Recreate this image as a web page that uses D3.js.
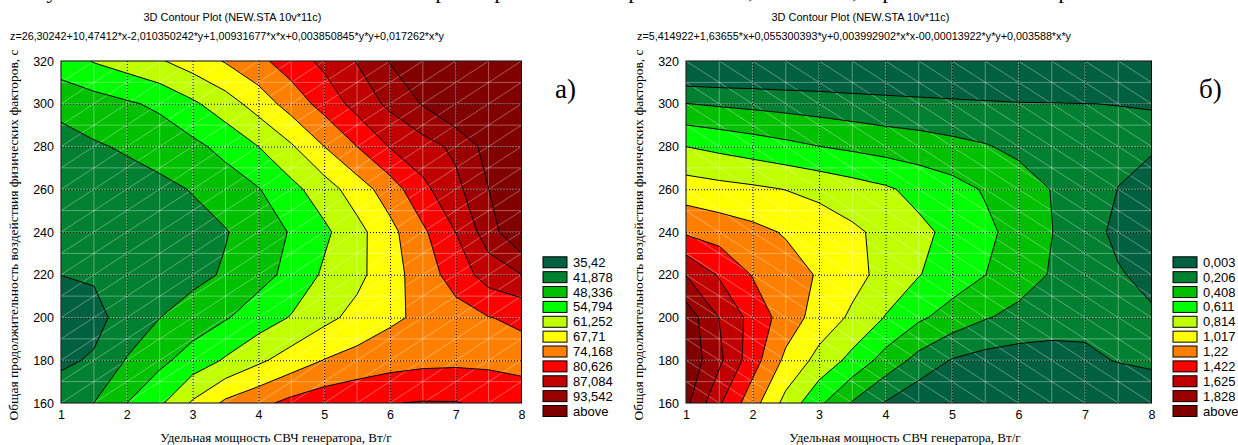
<!DOCTYPE html>
<html><head><meta charset="utf-8">
<script src="https://cdn.jsdelivr.net/npm/d3@7"></script>
<style>body{margin:0;background:#fff}svg{display:block}</style>
</head><body>
<svg id="c" width="1238" height="445"></svg>
<script>
// ---------- data ----------
const xValues = [1,1.5,2,2.5,3,3.5,4,4.5,5,5.5,6,6.5,7,7.5,8];
const yValues = [160,180,200,220,240,260,280,300,320];
const xTicks = [1,2,3,4,5,6,7,8];
const yTicks = [160,180,200,220,240,260,280,300,320];

// chart а) : rows = yValues (bottom to top), columns = xValues
const zA = [
 [38.2,41.9,48.3,53.6,62.1,69.0,72.5,75.9,78.0,79.3,80.4,81.0,80.9,79.6,77.8],
 [34.5,36.0,42.3,46.8,51.0,55.5,60.0,64.2,67.9,70.0,71.6,72.5,72.8,72.6,72.0],
 [33.5,33.8,37.5,41.8,45.0,47.8,51.5,55.2,59.5,63.2,66.5,69.0,71.5,74.0,75.2],
 [35.45,36.0,37.2,38.5,40.0,42.6,46.2,50.0,55.8,59.6,65.1,70.9,77.0,83.5,87.0],
 [36.3,36.8,37.5,38.5,39.8,41.5,45.0,48.8,53.5,59.2,65.8,73.0,80.7,90.5,100],
 [37.0,38.0,39.3,40.3,42.2,45.1,48.0,52.9,58.2,64.5,70.9,79.0,85.3,93.5,101],
 [38.3,41.2,42.6,44.6,46.8,50.2,54.8,60.5,67.7,74.2,81.0,84.5,88.5,96,104],
 [44.6,45.5,47.5,49.5,53.7,58.3,64.0,70.5,76.5,83.0,88.5,94,100,106,112],
 [51.2,55.2,57.7,60.6,64.3,68.2,72.6,77.3,82.2,87.4,93.9,100,106,112,118]
];
const levelsA = [35.42,41.878,48.336,54.794,61.252,67.71,74.168,80.626,87.084,93.542];
const labelsA = ["35,42","41,878","48,336","54,794","61,252","67,71","74,168","80,626","87,084","93,542","above"];
const formulaA = "z=26,30242+10,47412*x-2,010350242*y+1,00931677*x*x+0,003850845*y*y+0,017262*x*y";

// chart б)
const zB = [
 [1.88,1.45,1.10,0.75,0.45,0.19,-0.01,-0.15,-0.25,-0.30,-0.33,-0.34,-0.33,-0.28,-0.20],
 [1.98,1.67,1.31,0.97,0.75,0.55,0.33,0.14,-0.01,-0.07,-0.09,-0.09,-0.06,0.02,0.06],
 [1.95,1.62,1.35,1.13,0.93,0.78,0.60,0.44,0.33,0.22,0.15,0.11,0.09,0.07,0.03],
 [1.62,1.40,1.21,1.10,1.00,0.88,0.75,0.62,0.51,0.41,0.30,0.19,0.10,0.02,-0.05],
 [1.19,1.13,1.07,1.00,0.93,0.85,0.76,0.66,0.56,0.45,0.34,0.21,0.08,-0.04,-0.12],
 [0.915,0.88,0.85,0.81,0.76,0.70,0.64,0.55,0.48,0.39,0.30,0.20,0.11,0.0,-0.06],
 [0.61,0.56,0.51,0.46,0.41,0.37,0.33,0.30,0.26,0.22,0.16,0.11,0.07,0.04,0.02],
 [0.21,0.18,0.157,0.135,0.114,0.09,0.068,0.052,0.037,0.025,0.013,0.01,0.004,0.001,0.0],
 [-0.29,-0.29,-0.28,-0.28,-0.27,-0.27,-0.26,-0.26,-0.26,-0.27,-0.28,-0.29,-0.30,-0.31,-0.33]
];
const levelsB = [0.003,0.206,0.408,0.611,0.814,1.017,1.22,1.422,1.625,1.828];
const labelsB = ["0,003","0,206","0,408","0,611","0,814","1,017","1,22","1,422","1,625","1,828","above"];
const formulaB = "z=5,414922+1,63655*x+0,055300393*y+0,003992902*x*x-00,00013922*y*y+0,003588*x*y";

const bandColors = ["#006040","#008030","#00c000","#00ff00","#c0ff00","#ffff00","#ff8000","#ff0000","#c00000","#9a0000","#800000"];
const titleText = "3D Contour Plot (NEW.STA 10v*11c)";
const xLabel = "Удельная мощность СВЧ генератора, Вт/г";
const yLabel = "Общая продолжительность воздействия физических факторов, с";

// fragments of the document text line above the figure (only descenders visible)
const topGlyphs = [["у",52],["р",441],["р",500],["р",634],[",",751],[",",855],["р",888],["р",1064]];

// ---------- drawing ----------
const svg = d3.select("#c");
const defs = svg.append("defs");
const sans = "'Liberation Sans', Arial, sans-serif";
const serif = "'Liberation Serif', 'Times New Roman', serif";

svg.append("g").selectAll("text").data(topGlyphs).join("text")
  .attr("x", d => d[1]).attr("y", -2.5)
  .attr("text-anchor","middle")
  .style("font-family", serif).style("font-size","22px")
  .text(d => d[0]);

function panel(cfg) {
  const g = svg.append("g");
  const x = d3.scaleLinear().domain([1,8]).range([cfg.left, cfg.right]);
  const y = d3.scaleLinear().domain([160,320]).range([cfg.bottom, cfg.top]);
  const nx = xValues.length, ny = yValues.length;
  const dx = xValues[1]-xValues[0], dy = yValues[1]-yValues[0];
  const flat = [];
  for (let j=0;j<ny;j++) for (let i=0;i<nx;i++) flat.push(cfg.z[j][i]);
  const contours = d3.contours().size([nx,ny]).thresholds(cfg.levels)(flat);
  const proj = d3.geoTransform({point(px,py){
    this.stream.point(x(xValues[0]+(px-0.5)*dx), y(yValues[0]+(py-0.5)*dy));
  }});
  const path = d3.geoPath(proj);

  defs.append("clipPath").attr("id", cfg.id).append("rect")
    .attr("x", cfg.left).attr("y", cfg.top)
    .attr("width", cfg.right-cfg.left).attr("height", cfg.bottom-cfg.top);
  const pg = g.append("g").attr("clip-path", `url(#${cfg.id})`);
  pg.append("rect").attr("x",cfg.left).attr("y",cfg.top)
    .attr("width",cfg.right-cfg.left).attr("height",cfg.bottom-cfg.top)
    .attr("fill", bandColors[0]);
  pg.selectAll("path.band").data(contours).join("path").attr("class","band")
    .attr("d", path).attr("fill", (d,i) => bandColors[i+1]).attr("stroke","none");

  // white triangulation mesh
  const mesh = pg.append("g").attr("stroke","#fff").attr("stroke-opacity",0.35).attr("stroke-width",1);
  const xm = d3.range(1, 8.001, 0.5), ym = d3.range(160, 320.001, 10);
  mesh.selectAll("line.v").data(xm).join("line").attr("class","v")
    .attr("x1",d=>x(d)).attr("x2",d=>x(d)).attr("y1",cfg.top).attr("y2",cfg.bottom);
  mesh.selectAll("line.h").data(ym).join("line").attr("class","h")
    .attr("y1",d=>y(d)).attr("y2",d=>y(d)).attr("x1",cfg.left).attr("x2",cfg.right);
  const diag = d3.range(-8, 16, 0.5);
  mesh.selectAll("line.d").data(diag).join("line").attr("class","d")
    .attr("x1", d => x(d)).attr("y1", cfg.dir > 0 ? y(160) : y(320))
    .attr("x2", d => x(d+8)).attr("y2", cfg.dir > 0 ? y(320) : y(160));

  // contour lines
  pg.selectAll("path.line").data(contours).join("path").attr("class","line")
    .attr("d", path).attr("fill","none").attr("stroke","#000").attr("stroke-width",1);

  // dotted major grid
  const grid = pg.append("g").attr("stroke","#000").attr("stroke-width",1).attr("stroke-dasharray","1,2");
  grid.selectAll("line.gx").data(xTicks.slice(1,-1)).join("line").attr("class","gx")
    .attr("x1",d=>x(d)+0.5).attr("x2",d=>x(d)+0.5).attr("y1",cfg.top).attr("y2",cfg.bottom);
  grid.selectAll("line.gy").data(yTicks.slice(1,-1)).join("line").attr("class","gy")
    .attr("y1",d=>y(d)+0.5).attr("y2",d=>y(d)+0.5).attr("x1",cfg.left).attr("x2",cfg.right);

  // frame
  g.append("rect").attr("x",cfg.left).attr("y",cfg.top)
    .attr("width",cfg.right-cfg.left).attr("height",cfg.bottom-cfg.top)
    .attr("fill","none").attr("stroke","#000").attr("stroke-width",1);

  // axes
  const ax = g.append("g").attr("transform",`translate(0,${cfg.bottom})`)
    .call(d3.axisBottom(x).tickValues(xTicks).tickSize(0).tickPadding(7).tickFormat(d3.format("d")));
  ax.select(".domain").remove();
  ax.selectAll("text").style("font-family",sans).style("font-size","12.5px").attr("fill","#000");
  const ay = g.append("g").attr("transform",`translate(${cfg.left},0)`)
    .call(d3.axisLeft(y).tickValues(yTicks).tickSize(0).tickPadding(7).tickFormat(d3.format("d")));
  ay.select(".domain").remove();
  ay.selectAll("text").style("font-family",sans).style("font-size","12.5px").attr("fill","#000");

  // titles
  g.append("text").attr("x",cfg.titleX).attr("y",20.5)
    .attr("textLength",178).attr("lengthAdjust","spacingAndGlyphs")
    .style("font-family",sans).style("font-size","11px").text(titleText);
  g.append("text").attr("x",cfg.formulaX).attr("y",39.5)
    .attr("textLength",434).attr("lengthAdjust","spacingAndGlyphs")
    .style("font-family",sans).style("font-size","11px").text(cfg.formula);
  g.append("text").attr("x",cfg.xLabelX).attr("y",442).attr("text-anchor","middle")
    .style("font-family",serif).style("font-size","13px").text(xLabel);
  g.append("text").attr("transform",`translate(${cfg.yLabelX},235) rotate(-90)`).attr("text-anchor","middle")
    .style("font-family",serif).style("font-size","13.5px").text(yLabel);
  g.append("text").attr("x",cfg.tagX).attr("y",98)
    .style("font-family",serif).style("font-size","27px").text(cfg.tag);

  // legend
  const lg = g.append("g");
  const rows = lg.selectAll("g").data(cfg.labels).join("g")
    .attr("transform",(d,i)=>`translate(${cfg.legendX},${262.3 + i*14.87})`);
  rows.append("rect").attr("x",0).attr("y",-5.5).attr("width",24).attr("height",11)
    .attr("fill",(d,i)=>bandColors[i]).attr("stroke","#000").attr("stroke-width",1);
  rows.append("text").attr("x",30).attr("y",0).attr("dy","0.35em")
    .style("font-family",sans).style("font-size","13px").text(d=>d);
}

panel({id:"clipA", z:zA, levels:levelsA, labels:labelsA, formula:formulaA, dir:1,
  left:61, right:521.5, top:61, bottom:403, titleX:143.5, formulaX:10, xLabelX:276, yLabelX:18,
  tag:"а)", tagX:555, legendX:543});
panel({id:"clipB", z:zB, levels:levelsB, labels:labelsB, formula:formulaB, dir:-1,
  left:686, right:1151.5, top:61, bottom:403, titleX:771.5, formulaX:637, xLabelX:905, yLabelX:643,
  tag:"б)", tagX:1199, legendX:1173});
</script>
</body></html>
